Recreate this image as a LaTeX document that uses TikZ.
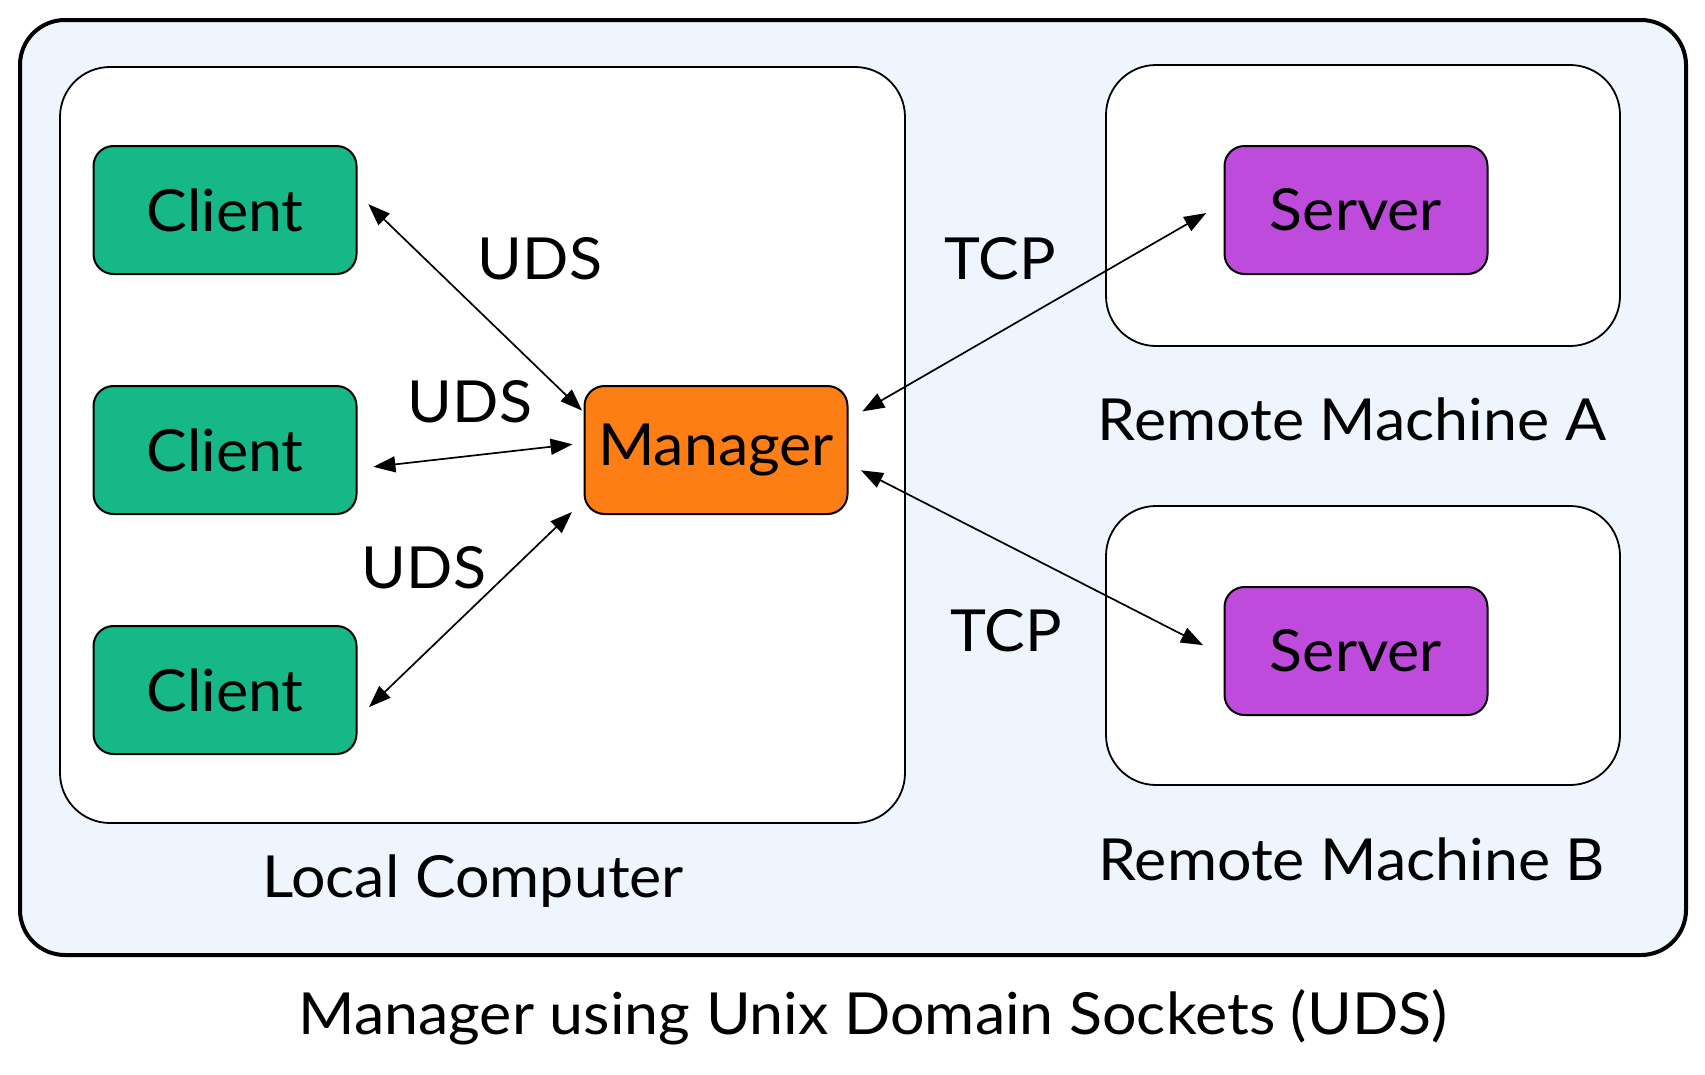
\documentclass[tikz,border=0pt]{standalone}
\usepackage{fontspec}
\setmainfont{Lato}[FakeStretch=1.05]
\usetikzlibrary{arrows.meta}
\definecolor{paneblue}{HTML}{EEF5FC}
\definecolor{clientgreen}{HTML}{15B886}
\definecolor{managerorange}{HTML}{FD7E14}
\definecolor{serverpurple}{HTML}{BE4BDB}
\tikzset{
  box/.style={draw, rounded corners=20pt, line width=2pt,
    minimum width=263pt, minimum height=128pt,
    font=\fontsize{58}{62}\selectfont},
  machine/.style={draw, fill=white, rounded corners=50pt, line width=1.8pt},
  link/.style={{Triangle[length=22pt,width=16pt]}-{Triangle[length=22pt,width=16pt]},
    line width=1.7pt},
  caption/.style={font=\fontsize{58}{62}\selectfont}
}
\begin{document}
\begin{tikzpicture}[x=1pt,y=-1pt]
    \useasboundingbox (0,0) rectangle (1705,1074);
    \draw[line width=4pt, fill=paneblue, rounded corners=45pt] (20,20) rectangle (1686,955);
    \draw[machine] (60,67) rectangle (905,823);
    \draw[machine] (1106,65) rectangle (1620,346);
    \draw[machine] (1106,506) rectangle (1620,785);
    \node[box, fill=clientgreen] (A0_0) at (225,210) {Client};
    \node[box, fill=clientgreen] (A1_0) at (225,450) {Client};
    \node[box, fill=clientgreen] (A2_0) at (225,690) {Client};
    \node[box, fill=managerorange] (A1_1) at (716,450) {Manager};
    \node[box, fill=serverpurple] (A0_2) at (1356,210) {Server};
    \node[box, fill=serverpurple] (A2_2) at (1356,651) {Server};
    \path (A0_0.7) edge [link, shorten <=15pt, shorten >=2pt] (A1_1.164);
    \path (A1_0.-8) edge [link, shorten <=16pt, shorten >=11pt] (A1_1.177);
    \path (A2_0.-12) edge [link, shorten <=16pt, shorten >=16pt] (A1_1.201);
    \path (A1_1.13) edge [link, shorten <=16pt, shorten >=20pt] (A0_2.177);
    \path (A1_1.-6) edge [link, shorten <=14pt, shorten >=23pt] (A2_2.182);
    \node[caption] (U0) at (540,259) {UDS};
    \node[caption] (U1) at (470,402) {UDS};
    \node[caption] (U2) at (424,568) {UDS};
    \node[caption] (T0) at (1000,259) {TCP};
    \node[caption] (T1) at (1006,631) {TCP};
    \node[caption] (L0) at (473,881) {Local Computer};
    \node[caption] (R0) at (1352,419) {Remote Machine A};
    \node[caption] (R1) at (1352,859) {Remote Machine B};
    \node[caption] (title) at (873,1017) {Manager using Unix Domain Sockets (UDS)};
  \end{tikzpicture}
\end{document}
